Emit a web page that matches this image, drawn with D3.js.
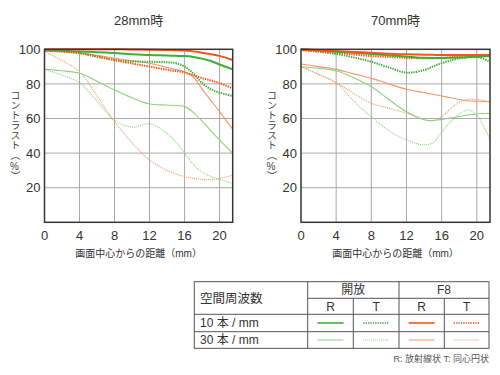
<!DOCTYPE html>
<html><head><meta charset="utf-8">
<script src="https://cdn.jsdelivr.net/npm/d3@7"></script>
<style>
body{margin:0;background:#fff;}
svg{display:block;font-family:"Liberation Sans","Noto Sans CJK JP",sans-serif;}
</style></head>
<body><svg id="c" width="500" height="375"></svg>
<script>
// ---- data ----
const xs = [0,2,4,6,8,10,12,14,15,16,17,18,19,20,21.5];
const yTicks = [20,40,60,80,100];
const xTicks = [0,4,8,12,16,20];
const titles = ["28mm時","70mm時"];
// 28mm
const w_open10R = [99.5,99.2,98.8,98.3,97.8,97.2,96.7,96.4,96.2,96.1,95.6,94.6,93.2,91.2,88.4];
const w_open10T = [99.6,99.0,98.0,95.8,93.8,93.0,92.8,92.5,92.0,90.0,86.0,80.5,77.0,75.0,73.0];
const w_f8_10R  = [100,100,100,100,100,99.9,99.8,99.6,99.5,99.3,98.8,98.0,97.2,96.2,93.8];
const w_f8_10T  = [99.2,98.6,97.7,95.8,93.8,91.8,90.0,88.2,87.4,86.6,85.0,83.4,82.0,80.5,77.4];
const w_open30R = [88.4,87.6,86.1,81.5,76.5,72.0,68.4,67.8,67.4,67.0,63.5,58.5,53.0,47.6,39.9];
const w_open30T = [88.4,85.0,80.7,70.0,59.0,55.0,57.0,51.4,46.5,40.0,33.5,29.0,26.5,24.8,22.5];
const w_f8_30R  = [99.2,98.7,98.0,96.5,94.8,93.3,91.9,89.5,88.3,87.0,84.0,77.0,70.5,64.0,53.8];
const w_f8_30T  = [98.6,93.5,87.0,73.0,58.2,46.0,36.0,30.0,28.0,26.4,25.4,24.8,24.6,25.3,27.3];
// 70mm
const t_open10R = [100,99.3,98.6,98.0,97.3,96.5,95.7,95.1,95.0,95.0,95.1,95.3,95.5,95.7,96.1];
const t_open10T = [99.6,98.6,97.3,95.3,92.8,89.5,86.5,88.0,90.0,92.0,93.5,94.8,95.4,95.7,92.8];
const t_f8_10R  = [100,99.5,99.0,98.5,98.0,97.5,97.1,96.9,96.8,96.7,96.7,96.7,96.7,96.7,96.7];
const t_f8_10T  = [99.6,98.8,98.0,97.0,96.1,95.6,95.1,94.8,94.8,95.0,95.4,95.8,96.1,96.3,96.7];
const t_open30R = [89.9,89.0,87.6,83.5,78.4,71.0,63.9,59.3,58.8,59.5,60.3,61.2,62.0,62.6,63.0];
const t_open30T = [89.9,85.5,80.7,70.0,61.0,53.0,47.6,44.8,46.0,52.0,58.0,62.5,65.0,62.0,47.6];
const t_f8_30R  = [91.5,90.0,88.4,85.8,83.2,80.0,76.9,75.0,74.0,73.0,72.0,71.0,70.3,70.0,69.7];
const t_f8_30T  = [90.3,85.5,80.7,74.5,68.8,66.0,63.0,59.5,58.8,61.0,65.5,69.5,71.0,71.1,69.7];

const legendRows = ["10 本 / mm","30 本 / mm"];
const legendGroups = ["開放","F8"];
const legendCols = ["R","T","R","T"];

// ---- styles ----
const C = {g10:"#3fae36", g30:"#8ed37c", o10:"#f0571c", o30:"#f59668"};
const styleOf = {
  open10R:{c:C.g10,w:2,d:null}, open10T:{c:C.g10,w:2,d:"1.4,1"},
  f8_10R:{c:C.o10,w:2,d:null},  f8_10T:{c:C.o10,w:2,d:"1.4,1"},
  open30R:{c:C.g30,w:1.1,d:null}, open30T:{c:C.g30,w:1.1,d:"1,1"},
  f8_30R:{c:C.o30,w:1.1,d:null},  f8_30T:{c:C.o30,w:1.1,d:"1,1"}
};
const charts = [
  {title:titles[0], x0:44.5, x1:232.7, series:{open30T:w_open30T,f8_30T:w_f8_30T,open30R:w_open30R,f8_30R:w_f8_30R,open10T:w_open10T,f8_10T:w_f8_10T,open10R:w_open10R,f8_10R:w_f8_10R}},
  {title:titles[1], x0:301, x1:490, series:{open30T:t_open30T,f8_30T:t_f8_30T,open30R:t_open30R,f8_30R:t_f8_30R,open10T:t_open10T,f8_10T:t_f8_10T,open10R:t_open10R,f8_10R:t_f8_10R}}
];
const svg = d3.select("#c");
const yTop = 49.3, yBot = 222.3;
const txt = "#333";

charts.forEach(ch => {
  const x = d3.scaleLinear().domain([0,21.5]).range([ch.x0, ch.x1]);
  const y = d3.scaleLinear().domain([0,100]).range([yBot, yTop]);
  const g = svg.append("g");
  // grid
  g.selectAll(".vg").data(xTicks.filter(d=>d>0)).join("line")
    .attr("x1",d=>x(d)).attr("x2",d=>x(d)).attr("y1",yTop).attr("y2",yBot)
    .attr("stroke","#aaa").attr("stroke-width",1);
  g.selectAll(".hg").data(yTicks.filter(d=>d<100)).join("line")
    .attr("x1",ch.x0).attr("x2",ch.x1).attr("y1",d=>y(d)).attr("y2",d=>y(d))
    .attr("stroke","#aaa").attr("stroke-width",1);
  // lines
  const line = d3.line().x((d,i)=>x(xs[i])).y(d=>y(d)).curve(d3.curveCatmullRom.alpha(0.5));
  Object.entries(ch.series).forEach(([k,vals])=>{
    const s = styleOf[k];
    g.append("path").attr("d",line(vals)).attr("fill","none")
      .attr("stroke",s.c).attr("stroke-width",s.w)
      .attr("stroke-dasharray",s.d);
  });
  // frame
  g.append("rect").attr("x",ch.x0).attr("y",yTop).attr("width",ch.x1-ch.x0).attr("height",yBot-yTop)
    .attr("fill","none").attr("stroke","#3a3330").attr("stroke-width",1.5);
  // tick labels
  g.selectAll(".yl").data(yTicks).join("text")
    .attr("x",ch.x0-4).attr("y",d=>y(d)).attr("dy","0.36em").attr("text-anchor","end")
    .attr("font-size",13).attr("fill",txt).text(d=>d);
  g.selectAll(".xl").data(xTicks).join("text")
    .attr("x",d=>x(d)).attr("y",yBot+13).attr("dy","0.36em").attr("text-anchor","middle")
    .attr("font-size",13).attr("fill",txt).text(d=>d);
  // titles
  const cx = (ch.x0+ch.x1)/2;
  g.append("text").attr("x",cx).attr("y",20).attr("dy","0.36em").attr("text-anchor","middle")
    .attr("font-size",13).attr("fill",txt).text(ch.title);
  g.append("text").attr("x",cx).attr("y",253).attr("dy","0.36em").attr("text-anchor","middle")
    .attr("font-size",10).attr("fill",txt).text("画面中心からの距離（mm）");
  g.append("text").attr("x",ch.x0-30).attr("y",136).attr("text-anchor","middle")
    .style("writing-mode","vertical-rl").style("text-orientation","upright")
    .attr("font-size",10).attr("fill","#444").text("コントラスト（%）");
});

// ---- legend table ----
const L = 194.3, R = 489, T0 = 281.7, T1 = 298.3, T2 = 314.3, T3 = 331.7, T4 = 348.3;
const c1 = 307.7, cMid = 399, cR1 = 353.3, cR2 = 444.3;
const tg = svg.append("g").attr("stroke","#555").attr("stroke-width",1);
tg.append("rect").attr("x",L).attr("y",T0).attr("width",R-L).attr("height",T4-T0).attr("fill","none");
[[L,R,T2],[L,R,T3],[c1,R,T1]].forEach(([a,b,yy])=>tg.append("line").attr("x1",a).attr("x2",b).attr("y1",yy).attr("y2",yy));
[[c1,T0],[cMid,T0],[cR1,T1],[cR2,T1]].forEach(([xx,ya])=>tg.append("line").attr("x1",xx).attr("x2",xx).attr("y1",ya).attr("y2",T4));
const colCenters = [(c1+cR1)/2,(cR1+cMid)/2,(cMid+cR2)/2,(cR2+R)/2];
const lg = svg.append("g").attr("fill",txt);
lg.append("text").attr("x",200).attr("y",(T0+T2)/2).attr("dy","0.36em").attr("font-size",12.5).text("空間周波数");
lg.append("text").attr("x",(c1+cMid)/2).attr("y",(T0+T1)/2).attr("dy","0.36em").attr("text-anchor","middle").attr("font-size",12).text(legendGroups[0]);
lg.append("text").attr("x",(cMid+R)/2).attr("y",(T0+T1)/2).attr("dy","0.36em").attr("text-anchor","middle").attr("font-size",12).text(legendGroups[1]);
legendCols.forEach((t,i)=>lg.append("text").attr("x",colCenters[i]).attr("y",(T1+T2)/2).attr("dy","0.36em").attr("text-anchor","middle").attr("font-size",12).text(t));
legendRows.forEach((t,i)=>lg.append("text").attr("x",200).attr("y",i?(T3+T4)/2:(T2+T3)/2).attr("dy","0.36em").attr("font-size",12).text(t));
const keys = [["open10R","open10T","f8_10R","f8_10T"],["open30R","open30T","f8_30R","f8_30T"]];
keys.forEach((row,ri)=>{
  const yy = ri?(T3+T4)/2:(T2+T3)/2;
  row.forEach((k,ci)=>{
    const s = styleOf[k];
    svg.append("line").attr("x1",colCenters[ci]-13).attr("x2",colCenters[ci]+13).attr("y1",yy).attr("y2",yy)
      .attr("stroke",s.c).attr("stroke-width",s.w===2?1.6:1).attr("stroke-dasharray",s.d);
  });
});
svg.append("text").attr("x",489).attr("y",359).attr("dy","0.36em").attr("text-anchor","end")
  .attr("font-size",9).attr("fill","#555").text("R: 放射線状  T: 同心円状");
</script></body></html>
